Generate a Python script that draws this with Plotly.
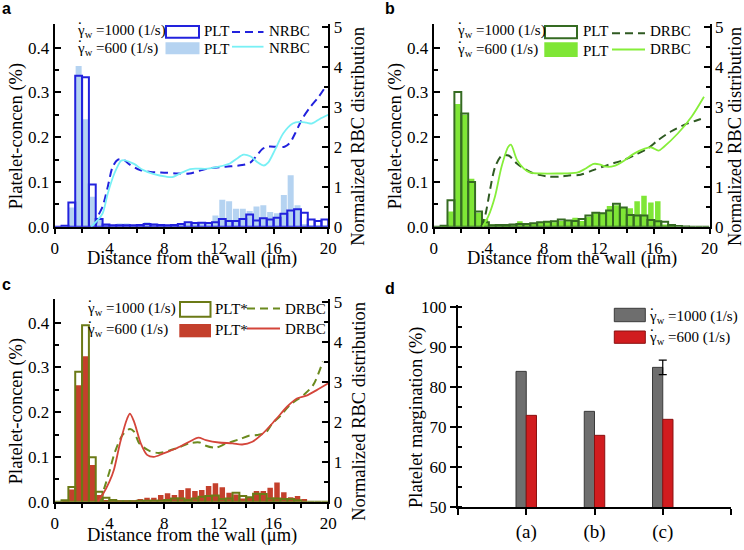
import plotly.graph_objects as go

W, H = 744, 550

# ---------------- data ----------------
bin_centers = [0.25, 0.75, 1.25, 1.75, 2.25, 2.75, 3.25, 3.75, 4.25, 4.75,
               5.25, 5.75, 6.25, 6.75, 7.25, 7.75, 8.25, 8.75, 9.25, 9.75,
               10.25, 10.75, 11.25, 11.75, 12.25, 12.75, 13.25, 13.75, 14.25, 14.75,
               15.25, 15.75, 16.25, 16.75, 17.25, 17.75, 18.25, 18.75, 19.25, 19.75]

# panel a
a_plt_1000 = [0, 0.002, 0.054, 0.337, 0.334, 0.094, 0.017, 0.005, 0.003, 0.003,
              0.003, 0.003, 0.004, 0.006, 0.005, 0.004, 0.003, 0.004, 0.006, 0.010,
              0.008, 0.009, 0.008, 0.010, 0.017, 0.013, 0.013, 0.017, 0.027, 0.014,
              0.019, 0.016, 0.020, 0.029, 0.036, 0.039, 0.031, 0.016, 0.013, 0.016]
a_plt_600 = [0, 0.001, 0.043, 0.359, 0.240, 0.067, 0.020, 0.005, 0.004, 0.007,
             0.007, 0.004, 0.005, 0.010, 0.007, 0.005, 0.004, 0.005, 0.006, 0.007,
             0.008, 0.008, 0.007, 0.025, 0.060, 0.057, 0.040, 0.040, 0.035, 0.045,
             0.048, 0.033, 0.030, 0.071, 0.115, 0.048, 0.006, 0.003, 0.002, 0.002]
a_rbc1000_x = [3.0, 3.15, 3.5, 3.88, 4.24, 4.6, 5.0, 5.5, 6.2, 7.0, 8.15, 9.0, 9.85, 10.6,
               11.3, 12.5, 13.7, 14.3, 14.7, 15.2, 15.6, 16.2, 16.8, 17.2, 17.6, 18.1,
               18.7, 19.3, 19.8]
a_rbc1000_y = [0.0, 0.25, 0.5, 1.0, 1.5, 1.67, 1.68, 1.55, 1.42, 1.37, 1.35, 1.33, 1.33, 1.4,
               1.46, 1.5, 1.54, 1.6, 1.75, 1.95, 2.0, 2.0, 2.0, 2.1, 2.35, 2.7,
               3.0, 3.25, 3.5]
a_rbc600_x = [2.66, 3.1, 3.5, 3.88, 4.36, 4.85, 5.1, 5.8, 6.44, 7.2, 8.15, 8.6, 9.1, 9.9,
              10.4, 11.2, 12.0, 12.8, 13.3, 13.8, 14.3, 14.8, 15.3, 15.6, 16.1, 16.7,
              17.4, 17.9, 18.4, 18.8, 19.4, 20.0]
a_rbc600_y = [0.0, 0.15, 0.33, 0.83, 1.33, 1.65, 1.66, 1.57, 1.42, 1.32, 1.25, 1.24, 1.32, 1.44,
              1.45, 1.45, 1.5, 1.58, 1.7, 1.8, 1.76, 1.62, 1.53, 1.6, 1.92, 2.33,
              2.58, 2.62, 2.6, 2.58, 2.7, 2.8]

# panel b
b_plt_1000 = [0, 0.002, 0.059, 0.301, 0.253, 0.100, 0.034, 0.010, 0.003, 0.004,
              0.004, 0.005, 0.006, 0.006, 0.0075, 0.010, 0.011, 0.012, 0.016, 0.014,
              0.013, 0.017, 0.025, 0.031, 0.030, 0.036, 0.051, 0.043, 0.026, 0.025,
              0.025, 0.015, 0.012, 0.011, 0.004, 0.0015, 0.0005, 0, 0, 0]
b_plt_600 = [0, 0.001, 0.034, 0.274, 0.250, 0.107, 0.031, 0.017, 0.005, 0.005,
             0.004, 0.003, 0.012, 0.006, 0.006, 0.009, 0.011, 0.010, 0.013, 0.012,
             0.020, 0.013, 0.022, 0.030, 0.030, 0.046, 0.048, 0.043, 0.041, 0.057,
             0.069, 0.054, 0.057, 0.005, 0.002, 0, 0, 0, 0, 0]
b_rbc1000_x = [3.45, 3.75, 4.1, 4.46, 4.94, 5.43, 6.03, 6.52, 7.25, 7.74, 8.35, 9.1, 9.8,
               10.65, 11.62, 12.59, 13.8, 14.77, 15.5, 16.3, 17.2, 18.2, 19.0, 19.6]
b_rbc1000_y = [0.0, 0.3, 0.95, 1.5, 1.78, 1.78, 1.58, 1.46, 1.33, 1.29, 1.25, 1.25, 1.28,
               1.3, 1.42, 1.54, 1.67, 1.82, 1.95, 2.17, 2.38, 2.55, 2.65, 2.72]
b_rbc600_x = [3.55, 3.95, 4.44, 4.92, 5.41, 5.6, 6.04, 6.52, 7.0, 7.74, 8.95, 10.4, 11.0,
              11.6, 12.0, 12.5, 13.1, 13.8, 14.5, 15.3, 15.8, 16.3, 16.7, 17.7, 18.7, 19.6]
b_rbc600_y = [0.0, 0.25, 0.75, 1.5, 2.0, 2.05, 1.67, 1.46, 1.35, 1.33, 1.33, 1.35, 1.45,
              1.57, 1.56, 1.5, 1.52, 1.65, 1.82, 1.95, 1.98, 1.9, 2.0, 2.33, 2.75, 3.25]

# panel c
c_plt_1000 = [0, 0.003, 0.033, 0.290, 0.394, 0.099, 0.022, 0.009, 0.004, 0.001,
              0.001, 0.001, 0.002, 0.002, 0.002, 0.002, 0.004, 0.007, 0.007, 0.004,
              0.007, 0.011, 0.013, 0.014, 0.006, 0.007, 0.020, 0.013, 0.010, 0.018,
              0.017, 0.007, 0.007, 0.006, 0.006, 0.003, 0, 0, 0, 0]
c_plt_600 = [0, 0.001, 0.027, 0.260, 0.325, 0.082, 0.015, 0.004, 0.001, 0.001,
             0.001, 0.001, 0.006, 0.009, 0.009, 0.015, 0.019, 0.015, 0.026, 0.030,
             0.024, 0.026, 0.035, 0.041, 0.032, 0.020, 0.016, 0.007, 0.010, 0.024,
             0.024, 0.031, 0.043, 0.021, 0.010, 0.013, 0.006, 0, 0, 0]
c_rbc1000_x = [3.35, 3.5, 4.0, 4.36, 4.96, 5.5, 5.8, 6.2, 6.93, 7.6, 8.87, 9.84, 10.6,
               11.05, 11.78, 12.5, 13.5, 14.2, 14.8, 15.4, 15.9, 16.5, 17.2, 18.2, 18.9, 19.6]
c_rbc1000_y = [0.0, 0.2, 0.75, 1.2, 1.67, 1.82, 1.75, 1.45, 1.27, 1.22, 1.33, 1.46, 1.48,
               1.4, 1.35, 1.45, 1.56, 1.65, 1.67, 1.72, 1.95, 2.15, 2.42, 2.67, 2.92, 3.5]
c_rbc600_x = [3.15, 3.5, 4.0, 4.33, 4.8, 5.3, 5.5, 5.8, 6.3, 6.75, 7.25, 7.9, 8.87, 9.84,
              10.5, 11.05, 12.0, 13.0, 13.7, 14.45, 15.2, 16.15, 17.0, 17.7, 18.4, 19.15, 20.0]
c_rbc600_y = [0.0, 0.17, 0.5, 0.8, 1.5, 2.08, 2.2, 2.0, 1.45, 1.17, 1.12, 1.2, 1.33, 1.5,
              1.6, 1.54, 1.48, 1.46, 1.43, 1.5, 1.7, 2.05, 2.38, 2.58, 2.65, 2.79, 2.96]

# panel d
d_categories = ["(a)", "(b)", "(c)"]
d_margin_1000 = [84, 74, 85]
d_margin_600 = [73, 68, 72]
d_err_1000_c = 1.8

# ---------------- helpers ----------------
SERIF = "Liberation Serif"
SANS = "Liberation Sans"
TICK = 17
TITLE = 18.5
LEG = 15


def PX(x):
    return x / W


def PY(y):
    return 1 - y / H


def xcfg(x0, x1, anchor):
    return dict(domain=[PX(x0), PX(x1)], anchor=anchor, range=[0, 20], tick0=0, dtick=4,
                ticks="outside", ticklen=5, tickwidth=1.5, tickcolor="black",
                showline=True, linewidth=2, linecolor="black", showgrid=False,
                zeroline=False, automargin=False,
                minor=dict(tick0=0, dtick=2, ticks="outside", ticklen=4, tickwidth=1.5,
                           tickcolor="black", showgrid=False),
                tickfont=dict(family=SERIF, size=TICK, color="black"))


def ylcfg(y0, y1, anchor):
    return dict(domain=[PY(y1), PY(y0)], anchor=anchor, range=[0, 0.452], tick0=0,
                dtick=0.1, tickformat=".1f", ticks="inside", ticklen=6, tickwidth=1.5,
                tickcolor="black", showline=True, linewidth=2, linecolor="black",
                showgrid=False, zeroline=False, automargin=False,
                minor=dict(tick0=0, dtick=0.05, ticks="inside", ticklen=4, tickwidth=1.5,
                           tickcolor="black", showgrid=False),
                tickfont=dict(family=SERIF, size=TICK, color="black"))


def yrcfg(over, anchor):
    return dict(overlaying=over, anchor=anchor, side="right", range=[0, 5.06], tick0=0,
                dtick=1, ticks="inside", ticklen=6, tickwidth=1.5, tickcolor="black",
                showline=True, linewidth=2, linecolor="black", showgrid=False,
                zeroline=False, automargin=False,
                minor=dict(tick0=0, dtick=0.5, ticks="inside", ticklen=4, tickwidth=1.5,
                           tickcolor="black", showgrid=False),
                tickfont=dict(family=SERIF, size=TICK, color="black"))


fig = go.Figure()

panels = [
    dict(xa="x", yl="y", yr="y2", p1000=a_plt_1000, p600=a_plt_600,
         r1000=(a_rbc1000_x, a_rbc1000_y), r600=(a_rbc600_x, a_rbc600_y),
         c_out="#2222dd", c_fill="#b5d3f1", c_dash="#2222dd", c_solid="#78f0f5", fw=0.44),
    dict(xa="x2", yl="y3", yr="y4", p1000=b_plt_1000, p600=b_plt_600,
         r1000=(b_rbc1000_x, b_rbc1000_y), r600=(b_rbc600_x, b_rbc600_y),
         c_out="#356b22", c_fill="#7fe636", c_dash="#2f5a22", c_solid="#86ee3a", fw=0.4),
    dict(xa="x3", yl="y5", yr="y6", p1000=c_plt_1000, p600=c_plt_600,
         r1000=(c_rbc1000_x, c_rbc1000_y), r600=(c_rbc600_x, c_rbc600_y),
         c_out="#6b7a16", c_fill="#c4402c", c_dash="#6b8a1e", c_solid="#d4453a", fw=0.4),
]

for p in panels:
    fig.add_trace(go.Bar(x=bin_centers, y=p["p600"], width=p["fw"],
                         marker=dict(color=p["c_fill"], line=dict(width=0)),
                         xaxis=p["xa"], yaxis=p["yl"], showlegend=False))
    fig.add_trace(go.Bar(x=bin_centers, y=p["p1000"], width=0.5,
                         marker=dict(color="rgba(0,0,0,0)", line=dict(color=p["c_out"], width=2)),
                         xaxis=p["xa"], yaxis=p["yl"], showlegend=False))
    fig.add_trace(go.Scatter(x=p["r1000"][0], y=p["r1000"][1], mode="lines",
                             line=dict(color=p["c_dash"], width=2, dash="8px,5px",
                                       shape="spline", smoothing=0.8),
                             xaxis=p["xa"], yaxis=p["yr"], showlegend=False))
    fig.add_trace(go.Scatter(x=p["r600"][0], y=p["r600"][1], mode="lines",
                             line=dict(color=p["c_solid"], width=1.8,
                                       shape="spline", smoothing=0.8),
                             xaxis=p["xa"], yaxis=p["yr"], showlegend=False))

# panel d
d_x = [i + 1 for i in range(len(d_categories))]
GRAY = "#6e6e6e"
RED = "#d11c1f"
fig.add_trace(go.Bar(x=d_x, y=d_margin_1000, width=0.15, offset=-0.15,
                     marker=dict(color=GRAY, line=dict(color="#3a3a3a", width=1)),
                     xaxis="x4", yaxis="y7", showlegend=False))
fig.add_trace(go.Bar(x=d_x, y=d_margin_600, width=0.15, offset=0,
                     marker=dict(color=RED, line=dict(color="#8a1010", width=1)),
                     xaxis="x4", yaxis="y7", showlegend=False))
fig.add_trace(go.Scatter(x=[d_x[2]], y=[d_margin_1000[2]], mode="markers",
                         marker=dict(size=1, color="rgba(0,0,0,0)"),
                         error_y=dict(type="data", array=[d_err_1000_c], color="black",
                                      thickness=1.2, width=4),
                         xaxis="x4", yaxis="y7", showlegend=False))

layout = dict(
    width=W, height=H, margin=dict(l=0, r=0, t=0, b=0, autoexpand=False),
    paper_bgcolor="white", plot_bgcolor="white", barmode="overlay",
    font=dict(family=SERIF, size=16, color="black"),
    xaxis=xcfg(54.7, 328.3, "y"), yaxis=ylcfg(24.3, 226.7, "x"), yaxis2=yrcfg("y", "x"),
    xaxis2=xcfg(433.7, 709.5, "y3"), yaxis3=ylcfg(24.3, 226.7, "x2"), yaxis4=yrcfg("y3", "x2"),
    xaxis3=xcfg(54.7, 328.3, "y5"), yaxis5=ylcfg(299.3, 501.7, "x3"), yaxis6=yrcfg("y5", "x3"),
    xaxis4=dict(domain=[PX(458), PX(731)], anchor="y7", range=[0, 4],
                tickvals=[0, 1, 2, 3, 4], ticktext=[""] + d_categories + [""],
                ticks="outside", ticklen=6, tickwidth=1.5, tickcolor="black",
                showline=True, linewidth=2, linecolor="black", showgrid=False, zeroline=False,
                automargin=False,
                tickfont=dict(family=SERIF, size=19, color="black")),
    yaxis7=dict(domain=[PY(507.3), PY(305)], anchor="x4", range=[50, 100.6], tick0=50, dtick=10,
                ticks="outside", ticklen=6, tickwidth=1.5, tickcolor="black",
                showline=True, linewidth=2, linecolor="black", showgrid=False, zeroline=False,
                automargin=False,
                minor=dict(tick0=50, dtick=5, ticks="inside", ticklen=4, tickwidth=1.5,
                           tickcolor="black", showgrid=False),
                tickfont=dict(family=SERIF, size=TICK, color="black")),
)
fig.update_layout(**layout)

ann = []
shapes = []


def text(x, y, s, size=16, anchor="center", angle=0, family=SERIF):
    ann.append(dict(x=PX(x), y=PY(y), xref="paper", yref="paper", text=s, showarrow=False,
                    xanchor=anchor, yanchor="middle", textangle=angle,
                    font=dict(family=family, size=size, color="black")))


def rect(x0, y0, x1, y1, line, fill, lw=2):
    shapes.append(dict(type="rect", xref="paper", yref="paper", x0=PX(x0), x1=PX(x1),
                       y0=PY(y1), y1=PY(y0), line=dict(color=line, width=lw), fillcolor=fill))


def hline(x0, x1, y, color, dash=None, lw=2):
    ln = dict(color=color, width=lw)
    if dash:
        ln["dash"] = dash
    shapes.append(dict(type="line", xref="paper", yref="paper", x0=PX(x0), x1=PX(x1),
                       y0=PY(y), y1=PY(y), line=ln))


def gamma_label(x, y, rate):
    # gamma with subscript w, plus the overdot drawn as its own small text
    text(x, y, "γ<sub>w</sub> =" + rate + " (1/s)", size=LEG, anchor="left")
    text(x + 1.2, y - 12, ".", size=LEG, anchor="left")


# axis titles for panels a-c
for (xl, xr, yb, yt, ty, rdx) in [(54.7, 328.3, 226.7, 24.3, 258.5, 29),
                                  (433.7, 709.5, 226.7, 24.3, 258.5, 25),
                                  (54.7, 328.3, 501.7, 299.3, 535.5, 30)]:
    text((xl + xr) / 2, ty, "Distance from the wall (μm)", size=TITLE)
    text(xl - 38, (yb + yt) / 2 + 11, "Platelet-concen (%)", size=TITLE, angle=-90)
    text(xr + rdx, (yb + yt) / 2 + 11, "Normalized RBC distribution", size=TITLE, angle=-90)

text(416, 417, "Platelet margination (%)", size=TITLE, angle=-90)

# panel letters
text(6, 9, "<b>a</b>", size=16, family=SANS)
text(390, 9, "<b>b</b>", size=16, family=SANS)
text(6, 284, "<b>c</b>", size=16, family=SANS)
text(390, 288, "<b>d</b>", size=16, family=SANS)

# legend a
gamma_label(75, 31, "1000")
gamma_label(75, 49, "600")
rect(166, 26, 199, 37.7, "#2222dd", "white")
rect(165.5, 42.3, 199.5, 54.3, "#b5d3f1", "#b5d3f1", lw=0)
text(202, 31, "PLT", size=LEG, anchor="left")
text(202, 49, "PLT", size=LEG, anchor="left")
hline(232, 263.5, 32, "#2222dd", dash="8px,5px")
hline(232, 263.5, 46.7, "#78f0f5", lw=1.8)
text(266.7, 31, "NRBC", size=LEG, anchor="left")
text(266.7, 48, "NRBC", size=LEG, anchor="left")

# legend b
gamma_label(455, 31, "1000")
gamma_label(455, 50, "600")
rect(545, 26, 577, 38.3, "#356b22", "white")
rect(544.3, 42.3, 577.7, 57, "#7fe636", "#7fe636", lw=0)
text(581, 31, "PLT", size=LEG, anchor="left")
text(581, 51, "PLT", size=LEG, anchor="left")
hline(612, 645, 33.3, "#2f5a22", dash="8px,5px")
hline(612, 645, 49.5, "#86ee3a", lw=1.8)
text(648, 31, "DRBC", size=LEG, anchor="left")
text(648, 49, "DRBC", size=LEG, anchor="left")

# legend c
gamma_label(85, 308.5, "1000")
gamma_label(85, 330, "600")
rect(180, 302, 210.5, 316.7, "#6b7a16", "white")
rect(179.3, 324, 211, 337.3, "#c4402c", "#c4402c", lw=0)
text(213.3, 308.5, "PLT*", size=LEG, anchor="left")
text(213.3, 330, "PLT*", size=LEG, anchor="left")
hline(247, 280, 308.5, "#6b8a1e", dash="8px,5px")
hline(247, 280, 328.5, "#d4453a", lw=1.8)
text(283.3, 308.5, "DRBC", size=LEG, anchor="left")
text(283.3, 329, "DRBC", size=LEG, anchor="left")

# legend d
rect(614.3, 308.3, 645.3, 321.7, "#3a3a3a", GRAY, lw=1)
rect(614.3, 331, 645.3, 343.3, "#8a1010", RED, lw=1)
gamma_label(647, 316.5, "1000")
gamma_label(647, 337.5, "600")

fig.update_layout(annotations=ann, shapes=shapes)
fig.write_html("out.html", config={"displayModeBar": False},
               post_script="document.body.style.margin='0px';document.body.style.overflow='hidden';")
